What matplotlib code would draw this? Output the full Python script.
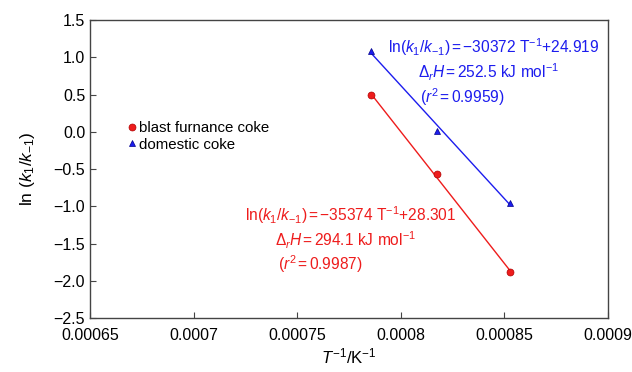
import numpy as np
import matplotlib
matplotlib.use("Agg")
import matplotlib.pyplot as plt

plt.rcParams['font.family'] = ['Liberation Sans', 'DejaVu Sans']
plt.rcParams['mathtext.fontset'] = 'custom'
plt.rcParams['mathtext.rm'] = 'Liberation Sans'
plt.rcParams['mathtext.it'] = 'Liberation Sans:italic'

# data: 1/T (K^-1) and ln(k1/k-1)
inv_t = [1 / 1273, 1 / 1223, 1 / 1173]
blast_lnk = [0.50, -0.57, -1.88]
domestic_lnk = [1.08, 0.01, -0.95]

# fitted lines: slope, intercept
blast_fit = (-35374, 28.301)
domestic_fit = (-30372, 24.919)

red = "#ee1c1c"
blue = "#1c1cee"

fig = plt.figure(figsize=(6.32, 3.72), dpi=100)
ax = fig.add_axes([0.1424, 0.145, 0.8196, 0.801])

xs = np.array([inv_t[0], inv_t[-1]])
ax.plot(xs, blast_fit[0] * xs + blast_fit[1], color=red, lw=1)
ax.plot(xs, domestic_fit[0] * xs + domestic_fit[1], color=blue, lw=1)
ax.plot(inv_t, blast_lnk, 'o', color=red, ms=5, mec="#b00000", mew=0.5, label="blast furnance coke")
ax.plot(inv_t, domestic_lnk, '^', color=blue, ms=5, mec="#00008a", mew=0.5, label="domestic coke")

ax.set_xlim(0.00065, 0.0009)
ax.set_ylim(-2.5, 1.5)
ax.set_xticks([0.00065, 0.0007, 0.00075, 0.0008, 0.00085, 0.0009])
ax.set_xticklabels(["0.00065", "0.0007", "0.00075", "0.0008", "0.00085", "0.0009"])
ax.set_yticks(np.arange(-2.5, 1.51, 0.5))
ax.set_yticklabels([f"{v:.1f}".replace("-", "\u2212") for v in np.arange(-2.5, 1.51, 0.5)])
ax.tick_params(direction='in', labelsize=11.5, length=4, width=0.8, color="#444444")
ax.tick_params(axis='x', pad=7)
for s in ax.spines.values():
    s.set_color("#444444")
    s.set_linewidth(1)

ax.set_xlabel(r"$T^{-1}$/K$^{-1}$", fontsize=12, labelpad=3)
ax.set_ylabel(r"ln ($k_1$/$k_{-1}$)", fontsize=12.5, labelpad=12)

fs = 11.2
ax.text(0.0007938, 1.138, r"ln($k_1$/$k_{-1}$)$\,$=$\,$−30372 T$^{-1}$+24.919", color=blue, fontsize=fs, va='center')
ax.text(0.0008083, 0.80, r"$\Delta_r H$$\,$=$\,$252.5 kJ mol$^{-1}$", color=blue, fontsize=fs, va='center')
ax.text(0.0008092, 0.466, r"($r^2$$\,$=$\,$0.9959)", color=blue, fontsize=fs, va='center')

ax.text(0.0007248, -1.117, r"ln($k_1$/$k_{-1}$)$\,$=$\,$−35374 T$^{-1}$+28.301", color=red, fontsize=fs, va='center')
ax.text(0.0007393, -1.453, r"$\Delta_r H$$\,$=$\,$294.1 kJ mol$^{-1}$", color=red, fontsize=fs, va='center')
ax.text(0.0007407, -1.775, r"($r^2$$\,$=$\,$0.9987)", color=red, fontsize=fs, va='center')

ax.legend(loc='upper left', bbox_to_anchor=(0.075, 0.66), frameon=False, fontsize=10.8,
          handlelength=0.4, handletextpad=0.3, borderpad=0, labelspacing=0.15, borderaxespad=0)

fig.savefig("out.png", dpi=100)
